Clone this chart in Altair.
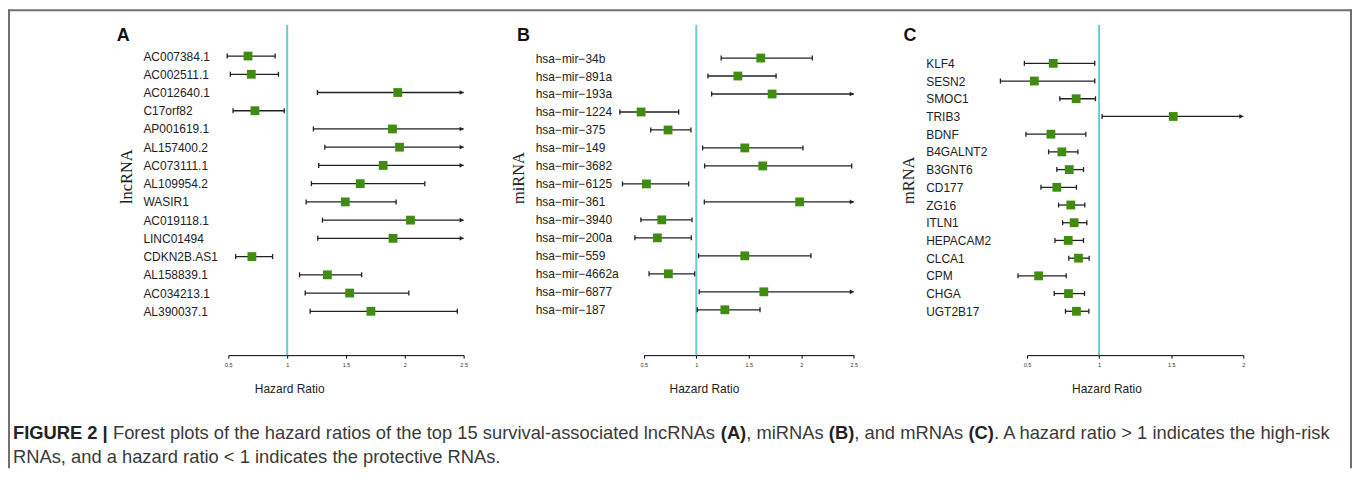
import altair as alt
import pandas as pd

# ---------------- data ----------------
A_GENES = ["AC007384.1", "AC002511.1", "AC012640.1", "C17orf82", "AP001619.1",
           "AL157400.2", "AC073111.1", "AL109954.2", "WASIR1", "AC019118.1",
           "LINC01494", "CDKN2B.AS1", "AL158839.1", "AC034213.1", "AL390037.1"]
A_HR = [0.667, 0.695, 1.940, 0.726, 1.895, 1.955, 1.816, 1.621, 1.494, 2.048,
        1.900, 0.700, 1.342, 1.531, 1.712]
A_LOW = [0.490, 0.517, 1.257, 0.540, 1.223, 1.320, 1.268, 1.206, 1.161, 1.300,
         1.260, 0.562, 1.105, 1.153, 1.195]
A_HIGH = [0.898, 0.926, 2.5, 0.975, 2.5, 2.5, 2.5, 2.170, 1.926, 2.5,
          2.5, 0.876, 1.633, 2.034, 2.446]
A_CUT = [False, False, True, False, True, True, True, False, False, True,
         True, False, False, False, False]

M = "\u2212"
B_GENES = [f"hsa{M}mir{M}{s}" for s in
           ["34b", "891a", "193a", "1224", "375", "149", "3682", "6125",
            "361", "3940", "200a", "559", "4662a", "6877", "187"]]
B_HR = [1.614, 1.396, 1.722, 0.474, 0.731, 1.462, 1.633, 0.525, 1.984, 0.671,
        0.629, 1.462, 0.734, 1.643, 1.272]
B_LOW = [1.237, 1.111, 1.146, 0.272, 0.566, 1.060, 1.079, 0.297, 1.076, 0.472,
         0.415, 1.022, 0.550, 1.028, 1.009]
B_HIGH = [2.105, 1.760, 2.5, 0.832, 0.949, 2.016, 2.480, 0.927, 2.5, 0.959,
          0.952, 2.092, 0.984, 2.5, 1.607]
B_CUT = [False, False, True, False, False, False, False, False, True, False,
         False, False, False, True, False]

C_GENES = ["KLF4", "SESN2", "SMOC1", "TRIB3", "BDNF", "B4GALNT2", "B3GNT6",
           "CD177", "ZG16", "ITLN1", "HEPACAM2", "CLCA1", "CPM", "CHGA", "UGT2B17"]
C_HR = [0.682, 0.551, 0.841, 1.514, 0.666, 0.742, 0.793, 0.707, 0.804, 0.827,
        0.786, 0.857, 0.581, 0.788, 0.843]
C_LOW = [0.482, 0.316, 0.728, 1.021, 0.493, 0.650, 0.707, 0.597, 0.719, 0.747,
         0.694, 0.790, 0.438, 0.689, 0.767]
C_HIGH = [0.970, 0.970, 0.975, 2.0, 0.908, 0.853, 0.892, 0.843, 0.901, 0.915,
          0.892, 0.931, 0.772, 0.899, 0.929]
C_CUT = [False, False, False, True, False, False, False, False, False, False,
         False, False, False, False, False]

TICKS_AB = [0.5, 1, 1.5, 2, 2.5]
TICKS_C = [0.5, 1, 1.5, 2]
REF_HR = [1.0]

CAPTION_1 = [("FIGURE 2 |", True),
             (" Forest plots of the hazard ratios of the top 15 survival-associated lncRNAs ", False),
             ("(A)", True), (", miRNAs ", False), ("(B)", True), (", and mRNAs ", False),
             ("(C)", True), (". A hazard ratio > 1 indicates the high-risk", False)]
CAPTION_2 = "RNAs, and a hazard ratio < 1 indicates the protective RNAs."

# ---------------- styling ----------------
GREEN = "#3f8c10"
CYAN = "#72c8d5"
INK = "#222222"
H = 331.5
SANS = "Liberation Sans"
SERIF = "Liberation Serif"
FRAME = "#707070"

REG_W = {' ': 278, '(': 333, ')': 333, ',': 278, '-': 333, '.': 278, '<': 584, '>': 584,
         '|': 260, 'A': 667, 'B': 667, 'C': 722, 'N': 722, 'R': 722, 'F': 611,
         'a': 556, 'b': 556, 'c': 500, 'd': 556, 'e': 556, 'f': 278, 'g': 556, 'h': 556,
         'i': 222, 'j': 222, 'k': 500, 'l': 222, 'm': 833, 'n': 556, 'o': 556, 'p': 556,
         'q': 556, 'r': 333, 's': 500, 't': 278, 'u': 556, 'v': 500, 'w': 722, 'x': 500,
         'y': 500, 'z': 500}
BOLD_W = {' ': 278, '(': 333, ')': 333, '|': 280, 'A': 722, 'B': 722, 'C': 722,
          'E': 667, 'F': 611, 'G': 778, 'I': 278, 'R': 722, 'U': 722}


def em_width(s, bold):
    table = BOLD_W if bold else REG_W
    return sum(table.get(ch, 556) for ch in s)


def text_layer(txt, x, y, size, bold=False, font=SANS, color=INK, align="left",
               baseline="alphabetic"):
    return alt.Chart(pd.DataFrame({"t": [txt]})).mark_text(
        align=align, baseline=baseline, font=font, fontSize=size,
        fontWeight="bold" if bold else "normal", color=color
    ).encode(text="t:N", x=alt.value(x), y=alt.value(y))


def frame_box(x1, x2, y1, y2):
    # thin rectangles used as the figure's border lines
    return alt.Chart(pd.DataFrame({"k": [0]})).mark_rect(
        color=FRAME, opacity=1
    ).encode(x=alt.value(x1), x2=alt.value(x2), y=alt.value(y1), y2=alt.value(y2))


def panel(genes, hr, low, high, cut, ticks, x_range, width, y_range, label_pad,
          ytitle, ytitle_x, xtitle_x, letter, letter_x, extra=()):
    df = pd.DataFrame({"name": genes, "hr": hr, "low": low, "high": high, "cut": cut})
    xs = alt.Scale(domain=[ticks[0], ticks[-1]], range=x_range, nice=False, zero=False)
    ys = alt.Scale(type="point", domain=genes, range=y_range, padding=0)
    xaxis = alt.Axis(values=ticks, format="~g", title="Hazard Ratio", grid=False,
                     domainColor="#000000", domainWidth=1, tickColor="#000000",
                     tickSize=3, tickWidth=1, labelFont=SANS, labelFontSize=5.5,
                     labelColor="#333333", labelPadding=4, labelFlush=False,
                     titleFont=SANS, titleFontSize=12, titleFontWeight="normal",
                     titleColor=INK, titleX=xtitle_x, titleY=33.5,
                     titleBaseline="middle", titleAlign="center", titleAngle=0)
    yaxis = alt.Axis(title=ytitle, domain=False, ticks=False, tickSize=0, grid=False,
                     labelAlign="left", labelBaseline="middle", labelPadding=label_pad,
                     labelFont=SANS, labelFontSize=12, labelColor=INK, labelLimit=300,
                     titleFont=SERIF, titleFontSize=16.5, titleFontWeight="normal",
                     titleColor=INK, titleAngle=270, titleX=ytitle_x, titleY=179.5,
                     titleAlign="left", titleBaseline="alphabetic")

    def X(f):
        return alt.X(f, type="quantitative", scale=xs, axis=xaxis)

    Y = alt.Y("name:N", scale=ys, axis=yaxis)
    base = alt.Chart(df)

    ref = alt.Chart(pd.DataFrame({"ref": REF_HR})).mark_rule(
        color=CYAN, strokeWidth=2).encode(x=X("ref"))
    ci = base.mark_rule(color=INK, strokeWidth=1.3).encode(x=X("low"), x2="high:Q", y=Y)
    lo_tick = base.mark_tick(color=INK, size=5, thickness=1.3, opacity=1).encode(
        x=X("low"), y=Y)
    hi_tick = base.transform_filter("!datum.cut").mark_tick(
        color=INK, size=5, thickness=1.3, opacity=1).encode(x=X("high"), y=Y)
    arrow = base.transform_filter("datum.cut").mark_point(
        shape="triangle-right", filled=True, size=22, color=INK, opacity=1,
        xOffset=-2).encode(x=X("high"), y=Y)
    sq = base.mark_square(size=78, color=GREEN, opacity=1).encode(x=X("hr"), y=Y)
    let = text_layer(letter, letter_x, 16.5, 18, bold=True, color="#111111")

    return alt.layer(*extra, ref, ci, lo_tick, hi_tick, arrow, sq, let).properties(
        width=width, height=H)


# ---------------- frame & caption (drawn in panel A's coordinates) ----------------
extra = [
    frame_box(-221.0, 1127.0, -15.5, -13.5),     # top
    frame_box(-221.0, -219.0, -15.5, 445.0),     # left
    frame_box(1125.0, 1127.0, -15.5, 445.0),     # right
]
total_em = sum(em_width(s, b) for s, b in CAPTION_1)
cap_fs = 1323.0 / (total_em / 1000.0)
cap_x0 = 13 - 229
cum = 0
for seg, bold in CAPTION_1:
    lead = len(seg) - len(seg.lstrip(" "))
    xpos = cap_x0 + cap_fs * (cum + em_width(" " * lead, bold)) / 1000.0
    extra.append(text_layer(seg.strip(" "), xpos, 415.5, cap_fs, bold=bold,
                            color="#222222" if bold else "#3a3a3a"))
    cum += em_width(seg, bold)
extra.append(text_layer(CAPTION_2, cap_x0, 439.5, cap_fs, color="#3a3a3a"))

pA = panel(A_GENES, A_HR, A_LOW, A_HIGH, A_CUT, TICKS_AB, [0, 236], 236,
           [31.5, 287.5], 85.7, "lncRNA", -97.3, 61, "A", -112, extra)
pB = panel(B_GENES, B_HR, B_LOW, B_HIGH, B_CUT, TICKS_AB, [7.7, 218.3], 218.3,
           [33.5, 286], 101.3, "miRNA", -113, 68, "B", -119.5)
pC = panel(C_GENES, C_HR, C_LOW, C_HIGH, C_CUT, TICKS_C, [0, 217], 217,
           [38.8, 287.5], 101.6, "mRNA", -114.3, 79.7, "C", -123.8)

chart = alt.hconcat(pA, pB, pC, spacing=173, bounds="flush").properties(
    padding=0
).configure_view(strokeWidth=0).resolve_scale(x="independent", y="independent")

chart.save("out.html", embed_options={"renderer": "svg", "actions": False})
